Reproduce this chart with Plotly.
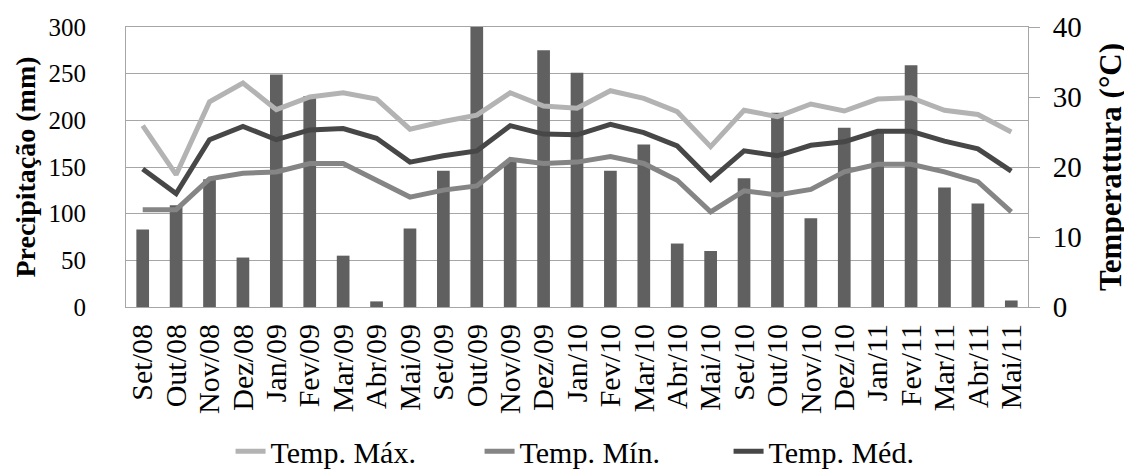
import plotly.graph_objects as go

months = ["Set/08", "Out/08", "Nov/08", "Dez/08", "Jan/09", "Fev/09", "Mar/09", "Abr/09", "Mai/09",
          "Set/09", "Out/09", "Nov/09", "Dez/09", "Jan/10", "Fev/10", "Mar/10", "Abr/10", "Mai/10",
          "Set/10", "Out/10", "Nov/10", "Dez/10", "Jan/11", "Fev/11", "Mar/11", "Abr/11", "Mai/11"]

precip = [83, 109, 137, 53, 249, 226, 55, 6, 84,
          146, 300, 156, 275, 251, 146, 174, 68, 60,
          138, 208, 95, 192, 187, 259, 128, 111, 7]

temp_max = [25.9, 18.9, 29.3, 32.0, 28.2, 30.0, 30.6, 29.7, 25.4,
            26.5, 27.4, 30.6, 28.7, 28.4, 30.9, 29.8, 27.9, 22.9,
            28.1, 27.2, 29.0, 28.0, 29.7, 29.9, 28.1, 27.5, 25.0]

temp_min = [13.9, 13.9, 18.3, 19.1, 19.3, 20.5, 20.5, 18.1, 15.7,
            16.7, 17.3, 21.1, 20.5, 20.7, 21.5, 20.5, 18.1, 13.6,
            16.6, 16.0, 16.8, 19.3, 20.4, 20.4, 19.3, 17.9, 13.6]

temp_med = [19.7, 16.2, 23.9, 25.8, 23.9, 25.3, 25.5, 24.1, 20.7,
            21.6, 22.3, 25.9, 24.7, 24.6, 26.1, 24.9, 23.0, 18.2,
            22.3, 21.6, 23.1, 23.6, 25.1, 25.1, 23.7, 22.6, 19.4]

FONT = "Liberation Serif"
GRID = "#a6a6a6"

fig = go.Figure()
fig.add_trace(go.Bar(x=months, y=precip, marker=dict(color="#606060", line=dict(width=0)),
                     showlegend=False, name="Precipitação"))
fig.add_trace(go.Scatter(x=months, y=temp_max, yaxis="y2", mode="lines", name="Temp. Máx.",
                         line=dict(color="#b3b3b3", width=5)))
fig.add_trace(go.Scatter(x=months, y=temp_min, yaxis="y2", mode="lines", name="Temp. Mín.",
                         line=dict(color="#858585", width=5)))
fig.add_trace(go.Scatter(x=months, y=temp_med, yaxis="y2", mode="lines", name="Temp. Méd.",
                         line=dict(color="#474747", width=5)))

fig.update_layout(
    width=1124, height=464,
    margin=dict(l=118, r=104, t=19, b=165, autoexpand=False),
    paper_bgcolor="white", plot_bgcolor="white",
    font=dict(family=FONT, color="black", size=28),
    bargap=0.62,
    xaxis=dict(type="category", tickangle=-90, tickfont=dict(size=30, family=FONT),
               tickmode="linear", dtick=1, ticklabelstandoff=4,
               showline=True, linecolor=GRID, linewidth=1, mirror=True,
               ticks="", showgrid=False, automargin=False),
    yaxis=dict(range=[0, 300], dtick=50, showgrid=True, gridcolor=GRID, gridwidth=1,
               showline=True, linecolor=GRID, linewidth=1, ticks="",
               ticklabelstandoff=34,
               tickfont=dict(size=25, family=FONT), zeroline=False, automargin=False,
               title=dict(text="<b>Precipitação (mm)</b>", font=dict(size=28, family=FONT), standoff=4)),
    yaxis2=dict(range=[0, 40], dtick=10, overlaying="y", side="right", showgrid=False,
                showline=True, linecolor=GRID, linewidth=1, ticks="outside", ticklen=11,
                ticklabelstandoff=7,
                tickcolor=GRID, tickfont=dict(size=29, family=FONT), zeroline=False, automargin=False,
                title=dict(text="<b>Temperattura (°C)</b>", font=dict(size=31, family=FONT), standoff=18)),
    legend=dict(orientation="h", x=0.53, xanchor="center", y=-0.515, yanchor="middle",
                font=dict(size=30, family=FONT), bgcolor="rgba(0,0,0,0)",
                entrywidth=204, entrywidthmode="pixels"),
)

fig.write_html("out.html")
